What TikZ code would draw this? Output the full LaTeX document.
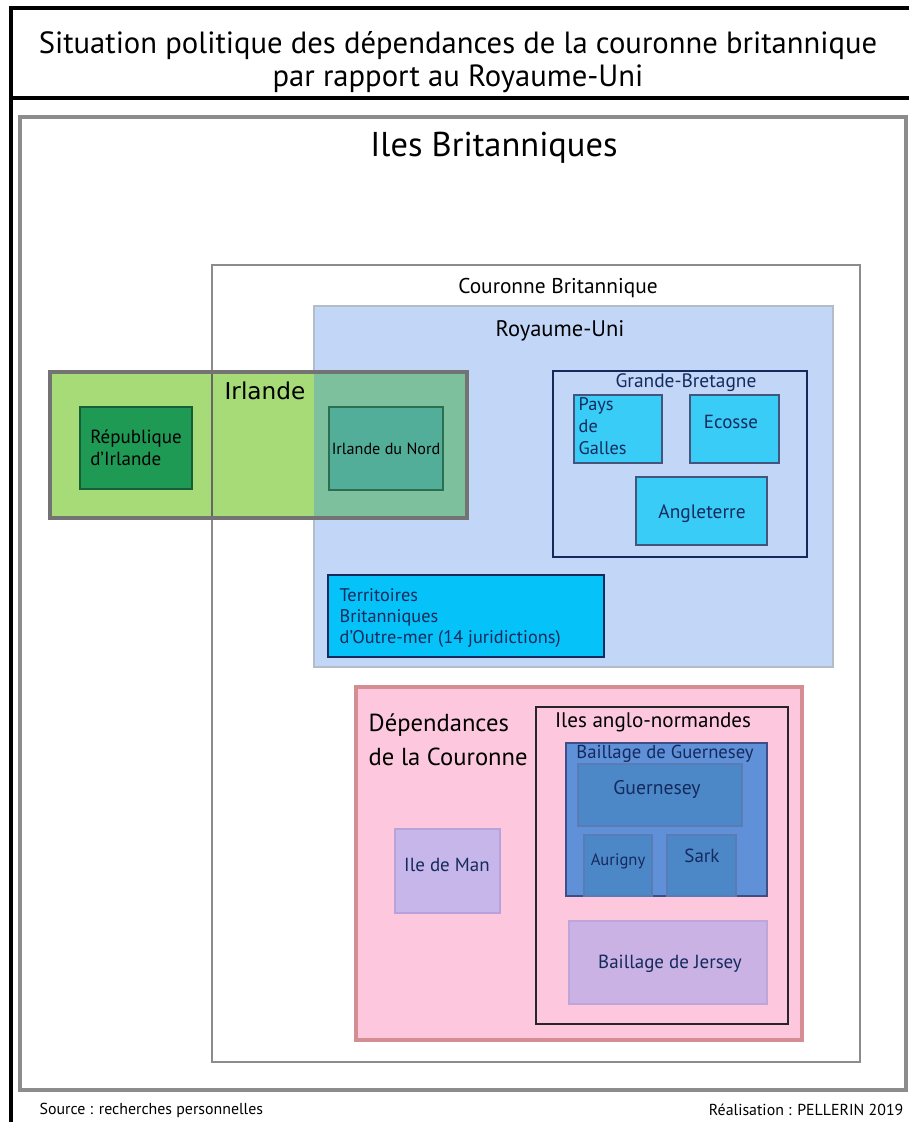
\documentclass[tikz,border=0pt]{standalone}
\usepackage{fontspec}
\setmainfont{PT Sans}
\newfontfamily\widefont{DejaVu Sans}
\usetikzlibrary{fit}

\definecolor{ukblue}{HTML}{C2D6F8}
\definecolor{ukline}{HTML}{B4BCC8}
\definecolor{irlgreen}{HTML}{A6DB78}
\definecolor{irlmix}{HTML}{7DC09E}
\definecolor{repgreen}{HTML}{1F9A55}
\definecolor{repline}{HTML}{155E37}
\definecolor{nordfill}{HTML}{52AE98}
\definecolor{nordline}{HTML}{2B6E50}
\definecolor{navy}{HTML}{152A5C}
\definecolor{cyanbox}{HTML}{38CCF6}
\definecolor{terrfill}{HTML}{05C2F8}
\definecolor{pinkfill}{HTML}{FDC8DE}
\definecolor{pinkline}{HTML}{D58D94}
\definecolor{lavfill}{HTML}{C6B6EA}
\definecolor{lavline}{HTML}{B7A3D9}
\definecolor{guernfill}{HTML}{5F90D8}
\definecolor{guernline}{HTML}{3E4F86}
\definecolor{isleblue}{HTML}{4C88C8}
\definecolor{isleline}{HTML}{5A7CB5}
\definecolor{jersfill}{HTML}{CAB2E4}
\definecolor{jersline}{HTML}{BCA6DA}

\begin{document}
\begin{tikzpicture}[
    x=0.025cm, y=-0.025cm,
    zone/.style={rectangle, inner sep=0pt},
    label/.style={inner sep=1pt, text=black},
    smalltxt/.style={inner sep=1pt, text=navy, align=left}
]
\useasboundingbox (0,0) rectangle (909,1122);

% Cadre et titre
\draw[line width=2.2pt] (11,1122) -- (11,8) -- (909,8);
\draw[line width=2.8pt] (11,98) -- (909,98);
\node[label, align=center, font=\fontsize{21.8}{23.5}\selectfont] (titre) at (458,62)
    {Situation politique des dépendances de la couronne britannique\\par rapport au Royaume-Uni};

% Iles Britanniques
\node[zone, draw=black!45, line width=2.8pt, fit={(20,117) (906,1090)}] (iles) {};
\node[label, font=\fontsize{24.5}{28}\selectfont] (ileslbl) at (494,148) {Iles Britanniques};

% Couronne Britannique
\node[zone, draw=black!45, line width=1.6pt, fit={(212,265) (860,1062)}] (couronne) {};
\node[label, font=\fontsize{15.2}{18}\selectfont] (couronnelbl) at (558,288) {Couronne Britannique};

% Royaume-Uni
\node[zone, fill=ukblue, draw=ukline, line width=1.6pt, fit={(314,306) (833,667)}] (ru) {};
\node[label, font=\fontsize{16}{19}\selectfont] (rulbl) at (560,331) {Royaume-Uni};

% Irlande
\node[zone, fill=irlgreen, fit={(50,372) (467,518)}] (irlande) {};
\fill[irlmix] (314,372) rectangle (467,518);
\draw[black!60, line width=1.6pt] (212,372) -- (212,518);
\node[zone, draw=black!55, line width=2.8pt, fit={(50,372) (467,518)}] (irlandecadre) {};
\node[label, font=\widefont\fontsize{16.5}{19}\selectfont] (irlandelbl) at (265,391) {Irlande};

\node[zone, fill=repgreen, draw=repline, line width=1.2pt, fit={(80,407) (192,489)}] (rep) {};
\node[label, align=left, font=\fontsize{13.5}{15.5}\selectfont] (replbl) at (rep.center) {République\\d’Irlande};

\node[zone, fill=nordfill, draw=nordline, line width=2pt, fit={(329,407) (443,490)}] (nord) {};
\node[label, font=\fontsize{11.5}{14}\selectfont] (nordlbl) at (nord.center) {Irlande du Nord};

% Grande-Bretagne
\node[zone, draw=navy, line width=1.8pt, fit={(553,371) (807,557)}] (gb) {};
\node[label, text=navy, font=\fontsize{13.8}{16}\selectfont] (gblbl) at (686,383) {Grande-Bretagne};

\node[zone, fill=cyanbox, draw=navy!80, line width=0.8pt, fit={(574,395) (662,463)}] (galles) {};
\node[smalltxt, anchor=north west, font=\fontsize{13}{15.5}\selectfont] (galleslbl) at (577,396) {Pays\\de\\Galles};

\node[zone, fill=cyanbox, draw=navy!80, line width=0.8pt, fit={(690,395) (779,463)}] (ecosse) {};
\node[smalltxt, font=\fontsize{13.5}{16}\selectfont] (ecosselbl) at (731,422) {Ecosse};

\node[zone, fill=cyanbox, draw=navy!80, line width=0.8pt, fit={(636,477) (767,545)}] (angleterre) {};
\node[smalltxt, font=\fontsize{13.8}{16}\selectfont] (angleterrelbl) at (702,514) {Angleterre};

% Territoires d'Outre-mer
\node[zone, fill=terrfill, draw=navy, line width=2pt, fit={(328,575) (604,657)}] (territoires) {};
\node[smalltxt, anchor=west, font=\fontsize{13}{15}\selectfont] (territoireslbl) at (338,618)
    {Territoires\\Britanniques\\d’Outre-mer (14 juridictions)};

% Dépendances de la Couronne
\node[zone, fill=pinkfill, draw=pinkline, line width=2.4pt, fit={(356,687) (802,1040)}] (dep) {};
\node[label, anchor=north west, align=left, font=\fontsize{17.5}{24.5}\selectfont] (deplbl) at (367,712)
    {Dépendances\\de la Couronne};

\node[zone, fill=lavfill, draw=lavline, line width=1pt, fit={(395,829) (500,913)}] (man) {};
\node[smalltxt, font=\fontsize{13.5}{15}\selectfont] (manlbl) at (447,865) {Ile de Man};

% Iles anglo-normandes
\node[zone, draw=black!85, line width=1pt, fit={(536,707) (788,1024)}] (anglonorm) {};
\node[label, font=\fontsize{15}{17}\selectfont] (anglonormlbl) at (653,722) {Iles anglo-normandes};

\node[zone, fill=guernfill, draw=guernline, line width=1.4pt, fit={(566,743) (767,896)}] (bguern) {};
\node[smalltxt, font=\fontsize{13.3}{15}\selectfont] (bguernlbl) at (665,754) {Baillage de Guernesey};

\node[zone, fill=isleblue, draw=isleline, line width=0.8pt, fit={(578,764) (742,826)}] (guernesey) {};
\node[smalltxt, font=\fontsize{14}{16}\selectfont] (guerneseylbl) at (657,790) {Guernesey};

\node[zone, fill=isleblue, draw=isleline, line width=0.8pt, fit={(584,835) (652,896)}] (aurigny) {};
\node[smalltxt, font=\fontsize{11.8}{14}\selectfont] (aurignylbl) at (618,861) {Aurigny};

\node[zone, fill=isleblue, draw=isleline, line width=0.8pt, fit={(667,835) (736,896)}] (sark) {};
\node[smalltxt, font=\fontsize{13.5}{15}\selectfont] (sarklbl) at (702,856) {Sark};

\node[zone, fill=jersfill, draw=jersline, line width=1pt, fit={(569,921) (767,1004)}] (jersey) {};
\node[smalltxt, font=\fontsize{13.5}{15}\selectfont] (jerseylbl) at (670,964) {Baillage de Jersey};

% Source et réalisation
\node[label, anchor=west, font=\fontsize{11.3}{13}\selectfont] (source) at (38,1110) {Source : recherches personnelles};
\node[label, anchor=east, font=\fontsize{11.3}{13}\selectfont] (realisation) at (905,1110) {Réalisation : PELLERIN 2019};

\end{tikzpicture}
\end{document}
